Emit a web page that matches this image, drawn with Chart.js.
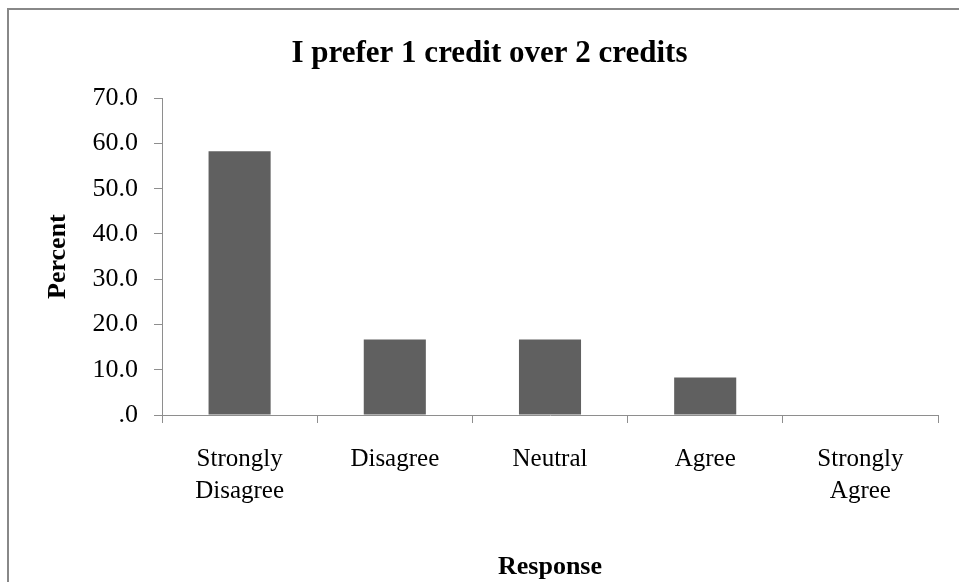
<!DOCTYPE html>
<html>
<head>
<meta charset="utf-8">
<title>I prefer 1 credit over 2 credits</title>
<script src="https://cdn.jsdelivr.net/npm/chart.js@4.4.0/dist/chart.umd.min.js"></script>
<style>
    html, body { margin: 0; padding: 0; background: #fff; overflow: hidden; }
    #frame {
        position: absolute;
        left: 7px;
        top: 8px;
        width: 1000px;
        height: 640px;
        border: 2px solid #888;
    }
    #chart-canvas { position: absolute; left: 0; top: 0; }
</style>
</head>
<body>
<div id="frame"></div>
<canvas id="chart-canvas" width="959" height="582"></canvas>
<script>
const categories = [["Strongly", "Disagree"], "Disagree", "Neutral", "Agree", ["Strongly", "Agree"]];
const percents = [58.3, 16.7, 16.7, 8.3, 0.0];
const yTicks = [0, 10, 20, 30, 40, 50, 60, 70];

const serif = "'Liberation Serif', 'Times New Roman', serif";
const axisGrey = "#8e8e8e";

document.addEventListener("DOMContentLoaded", function() {
    const ctx = document.getElementById("chart-canvas").getContext("2d");

    new Chart(ctx, {
        type: "bar",
        data: {
            labels: categories,
            datasets: [{
                label: "Percent",
                data: percents,
                backgroundColor: "#606060",
                borderWidth: 0,
                categoryPercentage: 1.0,
                barPercentage: 0.4
            }]
        },
        options: {
            responsive: false,
            animation: false,
            devicePixelRatio: 1,
            layout: {
                padding: { left: 41, right: 21, top: 0, bottom: 0 }
            },
            plugins: {
                legend: { display: false },
                tooltip: { enabled: false },
                title: {
                    display: true,
                    text: "I prefer 1 credit over 2 credits",
                    color: "#000",
                    font: { family: serif, size: 31, weight: "bold", lineHeight: 1.2 },
                    padding: { top: 35, bottom: 26 }
                }
            },
            scales: {
                x: {
                    afterFit: (scale) => { scale.height = 167; },
                    grid: {
                        offset: true,
                        drawOnChartArea: false,
                        drawTicks: true,
                        tickLength: 8,
                        color: axisGrey
                    },
                    border: { color: axisGrey, width: 1 },
                    ticks: {
                        color: "#000",
                        padding: 20,
                        maxRotation: 0,
                        font: { family: serif, size: 25, lineHeight: 1.28 }
                    },
                    title: {
                        display: true,
                        text: "Response",
                        color: "#000",
                        padding: { top: 0, bottom: 0 },
                        font: { family: serif, size: 26, weight: "bold", lineHeight: 1.15 }
                    }
                },
                y: {
                    min: 0,
                    max: 70,
                    afterFit: (scale) => { scale.width = 121; },
                    afterBuildTicks: (scale) => {
                        scale.ticks = yTicks.map(v => ({ value: v }));
                    },
                    grid: {
                        drawOnChartArea: false,
                        drawTicks: true,
                        tickLength: 8,
                        color: axisGrey
                    },
                    border: { color: axisGrey, width: 1 },
                    ticks: {
                        color: "#000",
                        padding: 16,
                        font: { family: serif, size: 26 },
                        callback: (value) => value === 0 ? ".0" : value.toFixed(1)
                    },
                    title: {
                        display: true,
                        text: "Percent",
                        color: "#000",
                        padding: { top: 2, bottom: 0 },
                        font: { family: serif, size: 26, weight: "bold", lineHeight: 1.2 }
                    }
                }
            }
        }
    });
});
</script>
</body>
</html>
